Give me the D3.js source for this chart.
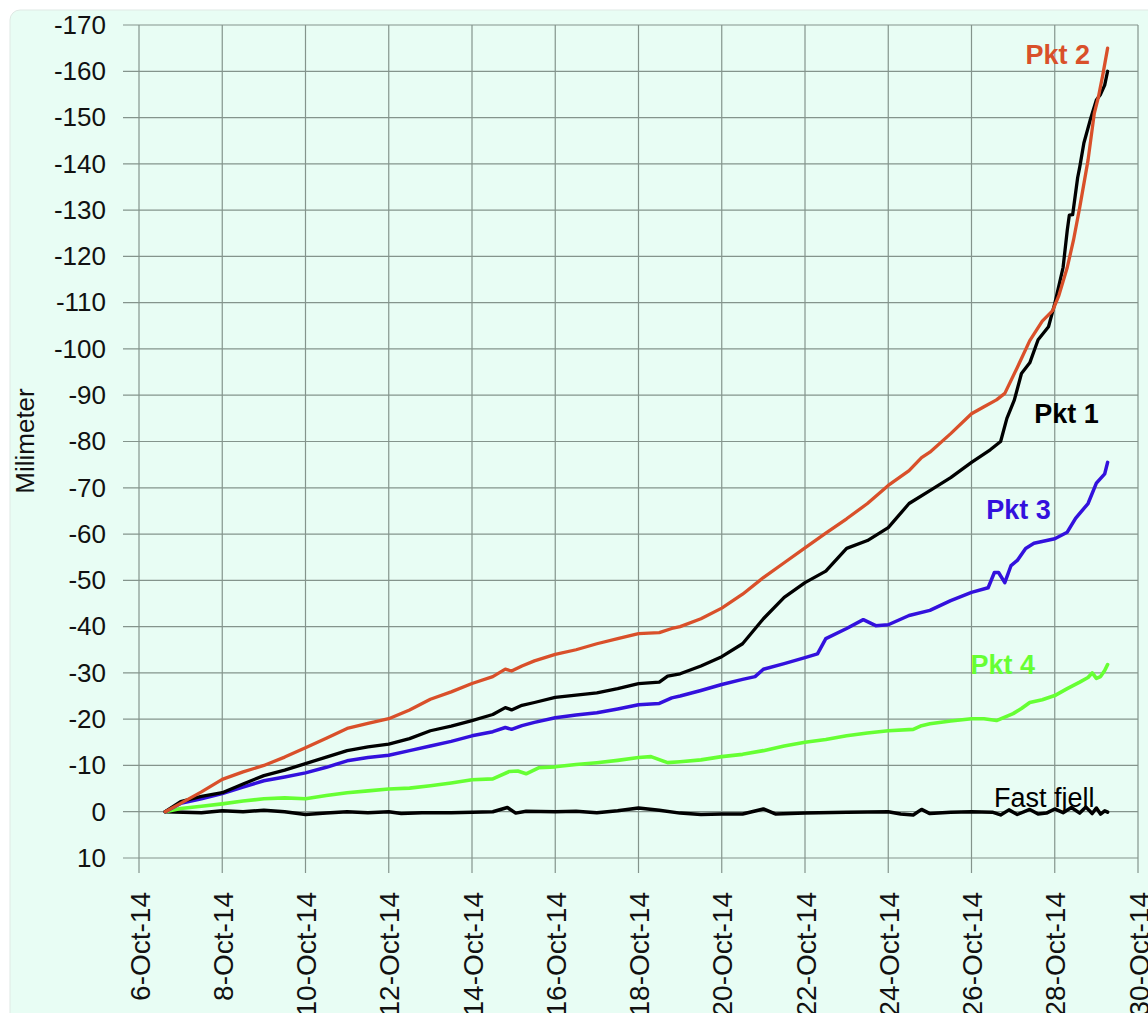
<!DOCTYPE html>
<html>
<head>
<meta charset="utf-8">
<script src="https://cdn.jsdelivr.net/npm/d3@7"></script>
<style>
  body { margin: 0; background: #fff; }
  svg { display: block; font-family: "Liberation Sans", Arial, sans-serif; }
</style>
</head>
<body>
<div id="chart"></div>
<script>
// Data: [day of October 2014, millimetres]
const pkt1 = [[6.63,0],[7,-2.2],[7.5,-3.3],[8,-4.1],[8.5,-6],[9,-7.8],[9.5,-9],[10,-10.4],[10.5,-11.8],[11,-13.2],[11.5,-14],[12,-14.6],[12.5,-15.8],[13,-17.5],[13.5,-18.5],[14,-19.7],[14.5,-21],[14.8,-22.5],[14.95,-22],[15.2,-23],[15.5,-23.6],[16,-24.7],[16.5,-25.2],[17,-25.7],[17.5,-26.6],[18,-27.7],[18.5,-28],[18.7,-29.3],[19,-29.8],[19.5,-31.5],[20,-33.5],[20.5,-36.3],[21,-41.7],[21.5,-46.3],[22,-49.5],[22.5,-52],[23,-56.9],[23.5,-58.6],[24,-61.4],[24.5,-66.6],[25,-69.4],[25.5,-72.2],[26,-75.5],[26.45,-78.2],[26.7,-80],[26.85,-85],[27.03,-89],[27.2,-94.7],[27.4,-97],[27.6,-102],[27.85,-104.8],[28,-109.8],[28.2,-117.6],[28.3,-125.6],[28.35,-128.9],[28.43,-129],[28.55,-137],[28.6,-139.3],[28.7,-144.5],[28.85,-149.4],[29,-153.8],[29.1,-155],[29.2,-157],[29.27,-160]];
const pkt2 = [[6.63,0],[7,-1.8],[7.5,-4.3],[8,-7],[8.5,-8.6],[9,-10],[9.5,-11.8],[10,-13.8],[10.5,-15.9],[11,-18],[11.5,-19.1],[12,-20.1],[12.5,-22],[13,-24.3],[13.5,-25.9],[14,-27.7],[14.5,-29.2],[14.8,-30.8],[14.95,-30.4],[15.2,-31.5],[15.5,-32.6],[16,-34],[16.5,-35],[17,-36.3],[17.5,-37.4],[18,-38.5],[18.5,-38.7],[18.8,-39.6],[19,-40],[19.5,-41.7],[20,-44],[20.5,-47],[21,-50.6],[21.5,-53.8],[22,-57],[22.5,-60.2],[23,-63.3],[23.5,-66.6],[24,-70.5],[24.5,-73.7],[24.8,-76.5],[25,-77.7],[25.5,-81.7],[26,-86],[26.3,-87.5],[26.6,-89],[26.8,-90.4],[27.1,-96],[27.4,-101.8],[27.7,-106],[27.95,-108.3],[28.1,-111.6],[28.3,-117.6],[28.45,-123.5],[28.6,-130.6],[28.8,-140.8],[28.95,-150.9],[29.05,-154.5],[29.15,-159],[29.27,-165]];
const pkt3 = [[6.63,0],[7,-1.8],[7.5,-2.8],[8,-3.9],[8.5,-5.3],[9,-6.7],[9.5,-7.5],[10,-8.4],[10.5,-9.6],[11,-11],[11.5,-11.7],[12,-12.2],[12.5,-13.2],[13,-14.2],[13.5,-15.2],[14,-16.4],[14.5,-17.3],[14.8,-18.2],[14.95,-17.8],[15.2,-18.6],[15.5,-19.3],[16,-20.3],[16.5,-20.9],[17,-21.4],[17.5,-22.2],[18,-23.1],[18.5,-23.4],[18.8,-24.6],[19,-25],[19.5,-26.2],[20,-27.5],[20.5,-28.6],[20.8,-29.2],[21,-30.8],[21.5,-32],[22,-33.3],[22.3,-34.1],[22.5,-37.4],[23,-39.6],[23.4,-41.5],[23.7,-40.2],[24,-40.4],[24.5,-42.4],[25,-43.5],[25.5,-45.6],[26,-47.4],[26.4,-48.4],[26.55,-51.7],[26.65,-51.7],[26.8,-49.5],[26.95,-53.2],[27.1,-54.3],[27.3,-56.9],[27.5,-58],[28,-59],[28.3,-60.4],[28.5,-63.4],[28.8,-66.6],[29,-71],[29.2,-73],[29.27,-75.5]];
const pkt4 = [[6.63,0],[7,-0.7],[7.5,-1.2],[8,-1.7],[8.5,-2.3],[9,-2.8],[9.5,-3],[10,-2.8],[10.5,-3.5],[11,-4.1],[11.5,-4.5],[12,-4.9],[12.5,-5.1],[13,-5.6],[13.5,-6.2],[14,-6.9],[14.5,-7.1],[14.9,-8.7],[15.1,-8.8],[15.3,-8.2],[15.6,-9.5],[16,-9.7],[16.5,-10.2],[17,-10.6],[17.5,-11.1],[18,-11.7],[18.3,-11.9],[18.7,-10.6],[19,-10.8],[19.5,-11.2],[20,-11.9],[20.5,-12.4],[21,-13.2],[21.5,-14.2],[22,-15],[22.5,-15.6],[23,-16.4],[23.5,-17],[24,-17.5],[24.6,-17.8],[24.8,-18.6],[25,-19],[25.5,-19.6],[26,-20.1],[26.3,-20.1],[26.6,-19.7],[27,-21.2],[27.2,-22.3],[27.4,-23.6],[27.7,-24.2],[28,-25.1],[28.3,-26.6],[28.6,-28],[28.8,-29],[28.9,-30],[29,-28.8],[29.1,-29.2],[29.2,-30.5],[29.27,-31.8]];
const fastFjell = [[6.63,0],[7.5,0.2],[8,-0.2],[8.5,0],[9,-0.3],[9.5,0],[10,0.6],[10.5,0.3],[11,0],[11.5,0.2],[12,0],[12.3,0.4],[12.8,0.2],[13.5,0.2],[14.5,0],[14.85,-0.9],[15.05,0.3],[15.3,-0.1],[16,0],[16.5,-0.1],[17,0.2],[17.5,-0.2],[18,-0.8],[18.5,-0.3],[19,0.3],[19.5,0.6],[20,0.5],[20.5,0.5],[21,-0.6],[21.3,0.5],[22,0.3],[23,0.1],[24,0],[24.3,0.5],[24.6,0.7],[24.8,-0.5],[25,0.4],[25.5,0.1],[26,0],[26.5,0.1],[26.7,0.7],[26.9,-0.4],[27.1,0.6],[27.4,-0.5],[27.6,0.5],[27.8,0.3],[28,-0.6],[28.2,0.2],[28.4,-0.9],[28.6,0.3],[28.75,-1],[28.9,0.4],[29,-0.8],[29.1,0.5],[29.2,-0.2],[29.27,0.1]];

const xTickDays = [6, 8, 10, 12, 14, 16, 18, 20, 22, 24, 26, 28, 30];
const yTicks = [-170, -160, -150, -140, -130, -120, -110, -100, -90, -80, -70, -60, -50, -40, -30, -20, -10, 0, 10];

const series = [
  { name: 'Fast fjell', data: fastFjell, color: '#000000', width: 3.5, label: [27.75, -1.1], bold: false },
  { name: 'Pkt 4', data: pkt4, color: '#66ff33', width: 3.6, label: [26.75, -29.8], bold: true },
  { name: 'Pkt 3', data: pkt3, color: '#3311dd', width: 3.5, label: [27.13, -63.3], bold: true },
  { name: 'Pkt 1', data: pkt1, color: '#000000', width: 3.3, label: [28.28, -84], bold: true },
  { name: 'Pkt 2', data: pkt2, color: '#d9502a', width: 3.3, label: [28.07, -161.6], bold: true }
];

const day = d => new Date(Date.UTC(2014, 9, 1) + (d - 1) * 864e5);

const W = 1148, H = 1013;
const plot = { left: 139, right: 1138, top: 25, bottom: 858 };

const svg = d3.select('#chart').append('svg')
  .attr('width', W)
  .attr('height', H);

// Panel background
svg.append('rect')
  .attr('x', 10).attr('y', 10)
  .attr('width', W + 20).attr('height', H + 20)
  .attr('rx', 10)
  .attr('fill', '#e8fdf4')
  .attr('stroke', '#dfe9e4');

const x = d3.scaleUtc()
  .domain([day(6), day(30)])
  .range([plot.left, plot.right]);

const y = d3.scaleLinear()
  .domain([10, -170])
  .range([plot.bottom, plot.top]);

// Grid
const grid = svg.append('g').attr('stroke', '#84948c').attr('stroke-width', 1.2);
grid.selectAll('.hline')
  .data(yTicks)
  .enter().append('line')
  .attr('x1', plot.left - 16).attr('x2', plot.right)
  .attr('y1', d => y(d)).attr('y2', d => y(d));
grid.selectAll('.vline')
  .data(xTickDays)
  .enter().append('line')
  .attr('x1', d => x(day(d))).attr('x2', d => x(day(d)))
  .attr('y1', plot.top).attr('y2', plot.bottom + 15);

// Y axis labels
svg.append('g')
  .attr('transform', `translate(${plot.left},0)`)
  .call(d3.axisLeft(y).tickValues(yTicks).tickSize(0).tickPadding(33).tickFormat(d => String(d)))
  .call(g => g.select('.domain').remove())
  .call(g => g.selectAll('text').attr('font-size', '26px').attr('fill', '#111')
    .attr('font-family', '"Liberation Sans", Arial, sans-serif'));

// X axis labels
svg.append('g')
  .attr('transform', `translate(0,${plot.bottom})`)
  .call(d3.axisBottom(x).tickValues(xTickDays.map(day)).tickSize(0).tickFormat(d3.utcFormat('%-d-%b-%y')))
  .call(g => g.select('.domain').remove())
  .call(g => g.selectAll('text')
    .attr('font-size', '28px').attr('fill', '#111')
    .attr('font-family', '"Liberation Sans", Arial, sans-serif')
    .attr('text-anchor', 'end')
    .attr('transform', 'rotate(-90)')
    .attr('x', -34).attr('y', 0).attr('dy', '0.36em'));

// Y axis title
svg.append('text')
  .attr('transform', 'rotate(-90)')
  .attr('x', -441).attr('y', 34)
  .attr('text-anchor', 'middle')
  .attr('font-size', '26px')
  .attr('fill', '#111')
  .text('Milimeter');

// Lines
const line = d3.line()
  .x(d => x(day(d[0])))
  .y(d => y(d[1]));

svg.append('g').selectAll('path')
  .data(series)
  .enter().append('path')
  .attr('d', d => line(d.data))
  .attr('fill', 'none')
  .attr('stroke', d => d.color)
  .attr('stroke-width', d => d.width)
  .attr('stroke-linejoin', 'round')
  .attr('stroke-linecap', 'round');

// Series labels
svg.append('g').selectAll('text')
  .data(series)
  .enter().append('text')
  .attr('x', d => x(day(d.label[0])))
  .attr('y', d => y(d.label[1]))
  .attr('text-anchor', 'middle')
  .attr('font-size', '27px')
  .attr('font-weight', d => d.bold ? 'bold' : 'normal')
  .attr('fill', d => d.color)
  .text(d => d.name);
</script>
</body>
</html>
